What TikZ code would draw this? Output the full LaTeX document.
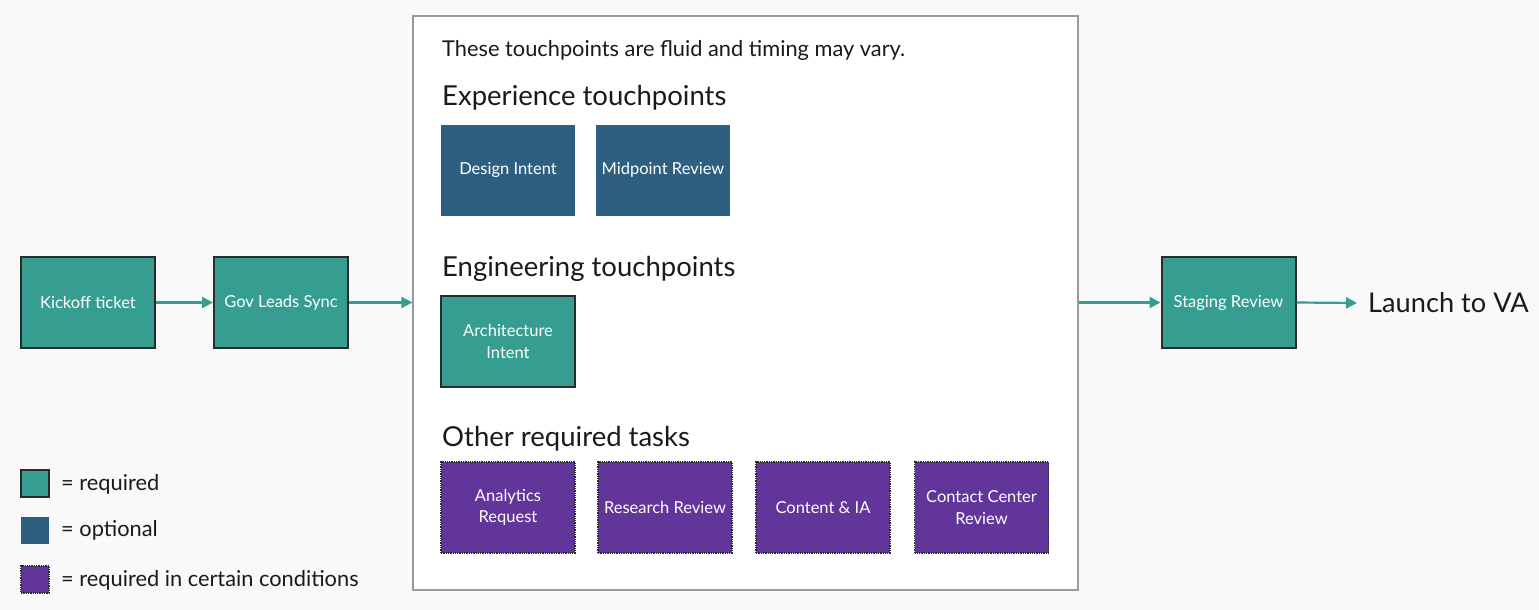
\documentclass[tikz,border=0pt]{standalone}
\usepackage{fontspec}
\setmainfont{Lato}
\usetikzlibrary{positioning,arrows.meta}
\definecolor{pagebg}{HTML}{F9F9F9}
\definecolor{reqteal}{HTML}{359E91}
\definecolor{optblue}{HTML}{2D5F80}
\definecolor{condpurple}{HTML}{613599}
\definecolor{boxedge}{HTML}{2B2B2B}
\definecolor{framegray}{HTML}{9A9A9A}
\definecolor{inktext}{HTML}{1A1A1A}
\tikzset{
  task/.style={minimum width=134pt, minimum height=91pt, inner sep=0pt,
    align=center, text=white, font=\fontsize{16.5}{21.5}\selectfont},
  required/.style={task, fill=reqteal, draw=boxedge, line width=2pt},
  optional/.style={task, fill=optblue},
  conditional/.style={task, fill=condpurple, draw=boxedge, densely dotted, line width=1.3pt},
  flow/.style={draw=reqteal, line width=2.2pt, -{Triangle[length=11pt,width=11pt]}},
  heading/.style={anchor=west, inner sep=0pt, text=inktext, font=\fontsize{27.5}{32}\selectfont},
  keytext/.style={anchor=west, inner sep=0pt, text=inktext, font=\fontsize{21.8}{26}\selectfont},
}

\begin{document}
\begin{tikzpicture}[x=1pt, y=-1pt]
\useasboundingbox (0,0) rectangle (1539,610);
\fill[pagebg] (0,0) rectangle (1539,610);

% flexible middle section
\node[draw=framegray, fill=white, line width=1.3pt, minimum width=665pt, minimum height=574pt] (touch) at (745.5,303) {};
\node[keytext] (fluidnote) at (442,50) {These touchpoints are fluid and timing may vary.};

\node[heading] (exphead) at (442,98) {Experience touchpoints};
\node[optional] (design) at (508,170) {Design Intent};
\node[optional] (midpoint) at (663,170) {Midpoint Review};

\node[heading] (enghead) at (442,269) {Engineering touchpoints};
\node[required] (arch) at (508,341.5) {Architecture\\Intent};

\node[heading] (otherhead) at (442,439) {Other required tasks};
\node[conditional] (analytics) at (508,507.5) {Analytics\\Request};
\node[conditional] (research) at (665,507.5) {Research Review};
\node[conditional] (contentia) at (823,507.5) {Content \& IA};
\node[conditional] (contact) at (981.5,507.5) {Contact Center\\Review};

% fixed steps
\node[required] (kickoff) at (88,302.5) {Kickoff ticket};
\node[required] (govsync) at (281,302.5) {Gov Leads Sync};
\node[required] (staging) at (1228.5,302.5) {Staging Review};
\node[anchor=west, inner sep=0pt, text=inktext, font=\fontsize{27.2}{32}\selectfont] (launch) at (1368,303) {Launch to VA};
\coordinate (launchtip) at ([xshift=-11pt]launch.west);

\draw[flow] (kickoff) -- (govsync);
\draw[flow] (govsync.east) -- (touch.west |- govsync.east);
\draw[flow] (touch.east |- staging.west) -- (staging.west);
\draw[flow] (staging.east) -- (launchtip);

% legend
\node[required, minimum width=28pt, minimum height=27pt] (keyreq) at (35,483.5) {};
\node[keytext] (keyreqtext) at (61,484) {= required};
\node[optional, minimum width=28pt, minimum height=27pt] (keyopt) at (35,530) {};
\node[keytext] (keyopttext) at (61,530) {= optional};
\node[conditional, minimum width=28pt, minimum height=27pt] (keycond) at (35,579.5) {};
\node[keytext] (keycondtext) at (61,580) {= required in certain conditions};
\end{tikzpicture}
\end{document}
